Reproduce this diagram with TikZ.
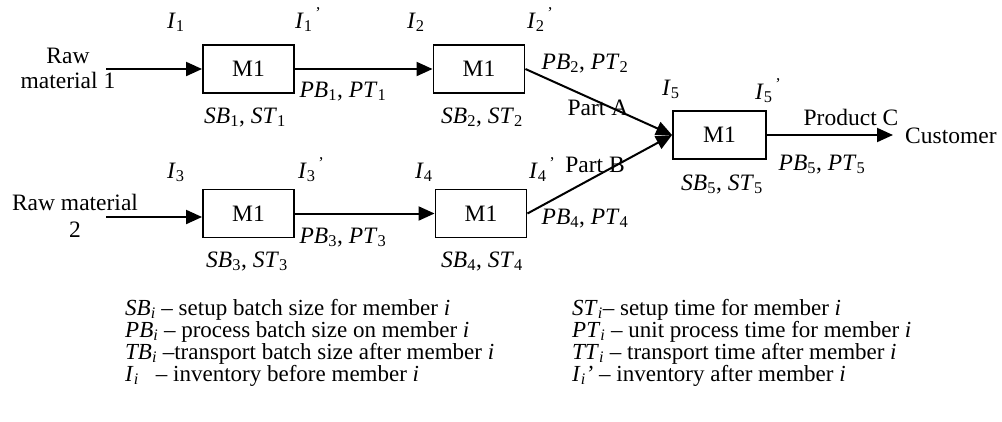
\documentclass[tikz,border=0pt]{standalone}
\usepackage{fontspec}
\setmainfont{Liberation Serif}
\usetikzlibrary{arrows.meta}
\newcommand\vv[2]{\textit{#1}\textsubscript{#2}}
\newcommand\ip[1]{\textit{I}\textsubscript{#1}\textsuperscript{\,'}}
\begin{document}
\begin{tikzpicture}[x=1pt,y=-1pt,
 every node/.style={font=\fontsize{23.5}{22}\selectfont, inner sep=0pt},
 legend/.style={anchor=base west, font=\fontsize{23}{22}\selectfont},
 machine/.style={draw, line width=1.9pt, minimum width=91pt, minimum height=48pt},
 lbl/.style={anchor=base},
 lblw/.style={anchor=base west},
 conn/.style={line width=2pt, -{Triangle[length=16pt,width=14pt]}}
 ]
\useasboundingbox (0,0) rectangle (1002,421);
% machines
\node[machine] (m1) at (248.5,69) {M1};
\node[machine] (m2) at (479,69) {M1};
\node[machine] (m3) at (248.5,213.5) {M1};
\node[machine] (m4) at (481,213.5) {M1};
\node[machine, minimum width=93pt] (m5) at (719.5,135) {M1};
% inputs
\node[lbl] (raw1a) at (68,63) {Raw};
\node[lbl] (raw1b) at (68,88) {material 1};
\node[lbl] (raw2a) at (75,210) {Raw material};
\node[lbl] (raw2b) at (75,237) {2};
\coordinate (r1) at (106,69);
\coordinate (r2) at (106,217);
\coordinate (cu) at (893,135);
\node[lblw] (cust) at (905,143) {Customer};
% connectors
\draw[conn] (r1) -- (m1.west);
\draw[conn] (m1.east) -- (m2.west);
\draw[conn] (r2) -- (r2 -| m3.west);
\draw[conn] (m3.east) -- (m4.west);
\draw[conn] (m2.east) -- (m5.west);
\draw[conn] (m4.east) -- (m5.west);
\draw[conn] (m5.east) -- (cu);
% inventory labels
\node[lblw] (i1) at (167,28) {\vv{I}{1}};
\node[lblw] (i1p) at (295,28) {\ip{1}};
\node[lblw] (i2) at (407,28) {\vv{I}{2}};
\node[lblw] (i2p) at (527,28) {\ip{2}};
\node[lblw] (i3) at (167,178) {\vv{I}{3}};
\node[lblw] (i3p) at (298,178) {\ip{3}};
\node[lblw] (i4) at (415,178) {\vv{I}{4}};
\node[lblw] (i4p) at (529,178) {\ip{4}};
\node[lblw] (i5) at (662,95) {\vv{I}{5}};
\node[lblw] (i5p) at (755,99) {\ip{5}};
% batch labels
\node[lbl] (s1) at (245,123) {\vv{SB}{1}, \vv{ST}{1}};
\node[lbl] (s2) at (482,123) {\vv{SB}{2}, \vv{ST}{2}};
\node[lbl] (s3) at (247,267) {\vv{SB}{3}, \vv{ST}{3}};
\node[lbl] (s4) at (482,267) {\vv{SB}{4}, \vv{ST}{4}};
\node[lbl] (s5) at (722,190) {\vv{SB}{5}, \vv{ST}{5}};
\node[lbl] (p1) at (343,97) {\vv{PB}{1}, \vv{PT}{1}};
\node[lbl] (p2) at (585,69) {\vv{PB}{2}, \vv{PT}{2}};
\node[lbl] (p3) at (343,243) {\vv{PB}{3}, \vv{PT}{3}};
\node[lbl] (p4) at (585,224) {\vv{PB}{4}, \vv{PT}{4}};
\node[lbl] (p5) at (822,170) {\vv{PB}{5}, \vv{PT}{5}};
\node[lbl] (pa) at (598,115) {Part A};
\node[lbl] (pb) at (595,172) {Part B};
\node[lbl] (pc) at (851,125) {Product C};
% legend
\node[legend] (l1) at (125,315) {\vv{SB}{\textit{i}} -- setup batch size for member \textit{i}};
\node[legend] (l2) at (125,337) {\vv{PB}{\textit{i}} -- process batch size on member \textit{i}};
\node[legend] (l3) at (125,359) {\vv{TB}{\textit{i}} --transport batch size after member \textit{i}};
\node[legend] (l4) at (125,381) {\vv{I}{\textit{i}}\ \ \ -- inventory before member \textit{i}};
\node[legend] (r1t) at (572,315) {\vv{ST}{\textit{i}}-- setup time for member \textit{i}};
\node[legend] (r2t) at (572,337) {\vv{PT}{\textit{i}} -- unit process time for member \textit{i}};
\node[legend] (r3t) at (572,359) {\vv{TT}{\textit{i}} -- transport time after member \textit{i}};
\node[legend] (r4t) at (572,381) {\vv{I}{\textit{i}}\textit{'} -- inventory after member \textit{i}};
\end{tikzpicture}
\end{document}
